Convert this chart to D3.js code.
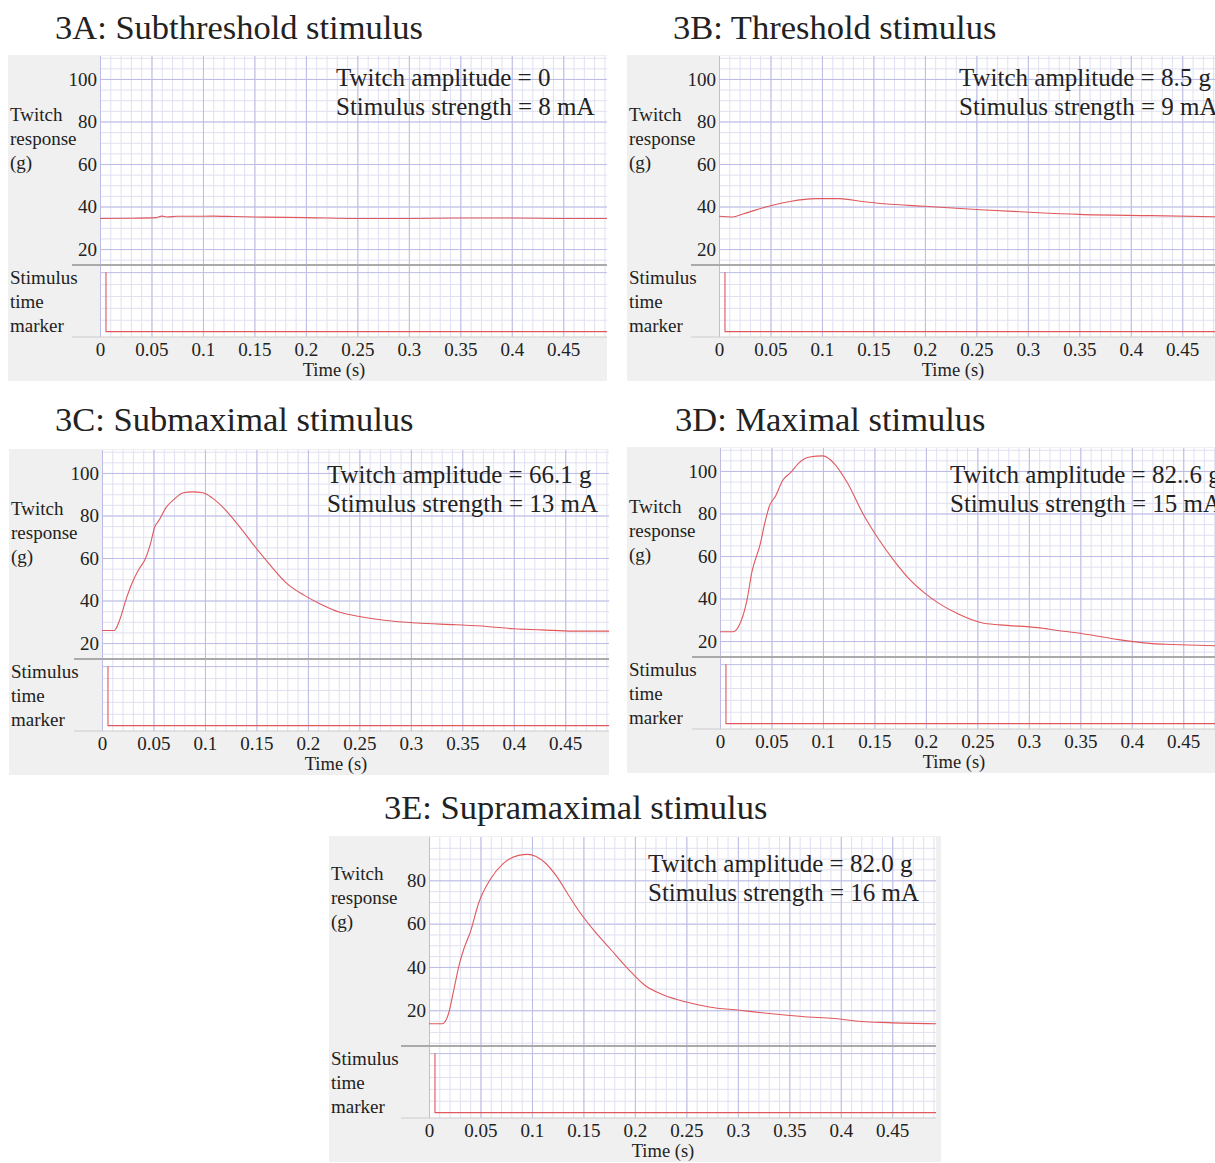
<!DOCTYPE html>
<html lang="en">
<head>
  <meta charset="UTF-8">
  <title>Twitch response to stimulus strength</title>
  <style>
    body { margin: 0; background: #fff; }
    svg text { font-family: "Liberation Serif", "Times New Roman", serif; fill: #222; }
  </style>
</head>
<body>
<div id="chart"></div>
<script src="https://d3js.org/d3.v7.min.js"></script>
<script>

// --- data ---
const timeTicks = [0, 0.05, 0.1, 0.15, 0.2, 0.25, 0.3, 0.35, 0.4, 0.45];
const forceTicks = [20, 40, 60, 80, 100];

const titles = ["3A: Subthreshold stimulus", "3B: Threshold stimulus", "3C: Submaximal stimulus",
                "3D: Maximal stimulus", "3E: Supramaximal stimulus"];
const amplitudes = ["Twitch amplitude = 0", "Twitch amplitude = 8.5 g", "Twitch amplitude = 66.1 g",
                    "Twitch amplitude = 82..6 g", "Twitch amplitude = 82.0 g"];
const strengths = ["Stimulus strength = 8 mA", "Stimulus strength = 9 mA", "Stimulus strength = 13 mA",
                   "Stimulus strength = 15 mA", "Stimulus strength = 16 mA"];

// stimulus marker (same in every panel)
const stimTime = [0.0058, 0.0058, 0.4925];
const stimLevel = [1, 0, 0];

const timeA = [0, 0.03, 0.055, 0.06, 0.065, 0.075, 0.09, 0.11, 0.13, 0.16, 0.2, 0.25, 0.3, 0.35, 0.4, 0.45, 0.4925];
const forceA = [34.4, 34.5, 34.8, 35.5, 35.1, 35.4, 35.4, 35.5, 35.3, 35.0, 34.8, 34.4, 34.4, 34.6, 34.6, 34.4, 34.4];

const timeB = [0, 0.013, 0.024, 0.05, 0.069, 0.094, 0.117, 0.139, 0.161, 0.2, 0.254, 0.302, 0.35, 0.42, 0.4925];
const forceB = [35.4, 35.1, 36.6, 40.4, 42.4, 43.7, 43.7, 42.4, 41.3, 40.1, 38.5, 37.3, 36.3, 35.7, 35.1];

const timeC = [0, 0.012, 0.017, 0.024, 0.032, 0.036, 0.042, 0.047, 0.051, 0.056, 0.062, 0.07, 0.079, 0.088,
               0.098, 0.107, 0.118, 0.133, 0.148, 0.164, 0.18, 0.197, 0.212, 0.231, 0.25, 0.276, 0.306, 0.344,
               0.374, 0.4, 0.427, 0.457, 0.4925];
const forceC = [25.9, 25.9, 30.6, 41.5, 51.2, 54.8, 59.5, 66.5, 74.3, 78.2, 83.6, 87.6, 90.7, 91.1,
                90.7, 88.3, 83.6, 75.1, 65.7, 56.3, 47.8, 42.3, 38.4, 34.5, 32.5, 30.6, 29.4, 28.6,
                27.8, 26.7, 26.2, 25.6, 25.6];

const timeD = [0, 0.013, 0.019, 0.026, 0.031, 0.039, 0.044, 0.048, 0.054, 0.061, 0.069, 0.076, 0.087, 0.1,
               0.111, 0.124, 0.139, 0.154, 0.169, 0.183, 0.198, 0.213, 0.231, 0.254, 0.272, 0.309, 0.328,
               0.346, 0.383, 0.394, 0.42, 0.439, 0.4925];
const forceD = [24.4, 24.4, 27.8, 38.8, 52.5, 65.5, 76.5, 83.5, 88.2, 95.6, 99.4, 103.5, 106.6, 107.1,
                103.5, 94.2, 79.8, 68.0, 57.8, 49.6, 42.9, 37.6, 32.8, 28.6, 27.6, 26.3, 25.0,
                23.9, 21.0, 20.2, 18.8, 18.4, 17.6];

const timeE = [0, 0.013, 0.019, 0.024, 0.0296, 0.034, 0.0407, 0.048, 0.059, 0.072, 0.087, 0.096, 0.104, 0.113,
               0.124, 0.135, 0.146, 0.161, 0.176, 0.194, 0.209, 0.228, 0.25, 0.272, 0.302, 0.328, 0.365,
               0.394, 0.42, 0.446, 0.4925];
const forceE = [13.8, 13.8, 18.5, 29.2, 41.5, 48.5, 56.9, 69.2, 80.0, 87.7, 91.5, 92.0, 91.0, 88.0,
                81.8, 73.6, 65.6, 56.4, 48.4, 38.8, 31.8, 27.0, 23.8, 21.5, 20.0, 18.6, 17.0,
                16.2, 14.8, 14.3, 13.8];

const traces = [[timeA, forceA], [timeB, forceB], [timeC, forceC], [timeD, forceD], [timeE, forceE]];

// --- layout of each panel (pixels) ---
const layout = [
  { left: 100, top: 56,  padL: 92,  padR: 0, yDom: [12.5, 110.8], tx: 55,  ty: 39,  ax: 336, ay: [30, 59] },
  { left: 719, top: 56,  padL: 92,  padR: 0, yDom: [12.5, 110.8], tx: 673, ty: 39,  ax: 959, ay: [30, 59] },
  { left: 102, top: 450, padL: 93,  padR: 0, yDom: [12.5, 110.8], tx: 55,  ty: 431, ax: 327, ay: [33, 62] },
  { left: 720, top: 448, padL: 93,  padR: 0, yDom: [12.5, 110.8], tx: 675, ty: 431, ax: 950, ay: [35, 64] },
  { left: 429, top: 837, padL: 100, padR: 5, yDom: [3.5, 100],    tx: 384, ty: 819, ax: 648, ay: [35, 64] }
];

const plotW = 507, respH = 209, stimH = 72;
const majorCol = "#bcbce6", minorCol = "#e0e0f2", traceCol = "#e0585c";

const svg = d3.select("#chart").append("svg")
  .attr("width", 1215)
  .attr("height", 1163);

layout.forEach((p, i) => {
  const g = svg.append("g");
  const bottom = p.top + respH + stimH;

  const x = d3.scaleLinear().domain([0, 0.4925]).range([p.left, p.left + plotW]);
  const y = d3.scaleLinear().domain(p.yDom).range([p.top + respH, p.top]);
  const s = d3.scaleLinear().domain([-0.09, 1.12]).range([bottom, p.top + respH]);

  // title
  svg.append("text")
    .attr("x", p.tx).attr("y", p.ty)
    .attr("font-size", 34.5)
    .text(titles[i]);

  // grey card + white plot
  g.append("rect")
    .attr("x", p.left - p.padL).attr("y", p.top - 1)
    .attr("width", p.padL + plotW + p.padR).attr("height", 326)
    .attr("fill", "#f0f0f0");
  g.append("rect")
    .attr("x", p.left).attr("y", p.top)
    .attr("width", plotW).attr("height", respH + stimH)
    .attr("fill", "#fff");

  // vertical grid (through both strips)
  const minorT = d3.range(0, 50).map(k => k / 100);
  const vGrid = (vals, col) => g.append("g")
    .attr("transform", `translate(0,${bottom})`)
    .call(d3.axisBottom(x).tickValues(vals).tickSize(-(respH + stimH)).tickFormat(""))
    .call(a => a.select(".domain").remove())
    .selectAll("line").attr("stroke", col).attr("stroke-width", 1);
  vGrid(minorT, minorCol);

  // horizontal grid
  const minorF = d3.range(0, 23).map(k => k * 5).filter(v => v > p.yDom[0] && v < p.yDom[1]);
  const majorF = minorF.filter(v => v % 20 === 0);
  const hGrid = (sc, vals, col) => g.append("g")
    .attr("transform", `translate(${p.left},0)`)
    .call(d3.axisLeft(sc).tickValues(vals).tickSize(-plotW).tickFormat(""))
    .call(a => a.select(".domain").remove())
    .selectAll("line").attr("stroke", col).attr("stroke-width", 1);
  hGrid(y, minorF, minorCol);
  hGrid(s, [0.2, 0.4, 0.6, 0.8], minorCol);
  vGrid(timeTicks, majorCol);
  hGrid(y, majorF, majorCol);
  hGrid(s, [1], majorCol);

  // strip separators
  g.append("line")
    .attr("x1", p.left - 28).attr("x2", p.left + plotW)
    .attr("y1", p.top + respH).attr("y2", p.top + respH)
    .attr("stroke", "#aaa").attr("stroke-width", 2);
  g.append("line")
    .attr("x1", p.left - 28).attr("x2", p.left + plotW)
    .attr("y1", bottom).attr("y2", bottom)
    .attr("stroke", "#ccc").attr("stroke-width", 1);

  // traces
  const clipId = "clip" + i;
  svg.append("clipPath").attr("id", clipId)
    .append("rect").attr("x", p.left).attr("y", p.top)
    .attr("width", plotW).attr("height", respH + stimH);

  const [tt, ff] = traces[i];
  const line = d3.line()
    .x(d => x(d[0])).y(d => y(d[1]))
    .curve(d3.curveMonotoneX);
  g.append("path")
    .datum(d3.zip(tt, ff))
    .attr("clip-path", `url(#${clipId})`)
    .attr("d", line)
    .attr("fill", "none").attr("stroke", traceCol).attr("stroke-width", 1.1);

  const stimLine = d3.line().x(d => x(d[0])).y(d => s(d[1]));
  g.append("path")
    .datum(d3.zip(stimTime, stimLevel))
    .attr("clip-path", `url(#${clipId})`)
    .attr("d", stimLine)
    .attr("fill", "none").attr("stroke", traceCol).attr("stroke-width", 1.1);

  // axes labels
  g.append("g")
    .attr("transform", `translate(0,${bottom})`)
    .call(d3.axisBottom(x).tickValues(timeTicks).tickSize(0).tickPadding(6).tickFormat(d => String(d)))
    .call(a => a.select(".domain").remove())
    .attr("font-size", 19).attr("font-family", null);

  g.append("g")
    .attr("transform", `translate(${p.left},0)`)
    .call(d3.axisLeft(y).tickValues(forceTicks.filter(v => v < p.yDom[1] - 5)).tickSize(0).tickPadding(3))
    .call(a => a.select(".domain").remove())
    .attr("font-size", 19).attr("font-family", null);

  g.append("text")
    .attr("x", p.left + 234).attr("y", bottom + 39)
    .attr("text-anchor", "middle").attr("font-size", 18.5)
    .text("Time (s)");

  const lx = p.left - p.padL + 2;
  [["Twitch", -0.5], ["response", 23.5], ["(g)", 48]].forEach(([t, dy]) => {
    g.append("text").attr("x", lx).attr("y", y(80) + dy).attr("font-size", 19).text(t);
  });
  [["Stimulus", 19], ["time", 43], ["marker", 67]].forEach(([t, dy]) => {
    g.append("text").attr("x", lx).attr("y", p.top + respH + dy).attr("font-size", 19).text(t);
  });

  // amplitude / strength note
  g.append("text").attr("x", p.ax).attr("y", p.top + p.ay[0]).attr("font-size", 25).text(amplitudes[i]);
  g.append("text").attr("x", p.ax).attr("y", p.top + p.ay[1]).attr("font-size", 25).text(strengths[i]);
});

</script>
</body>
</html>
